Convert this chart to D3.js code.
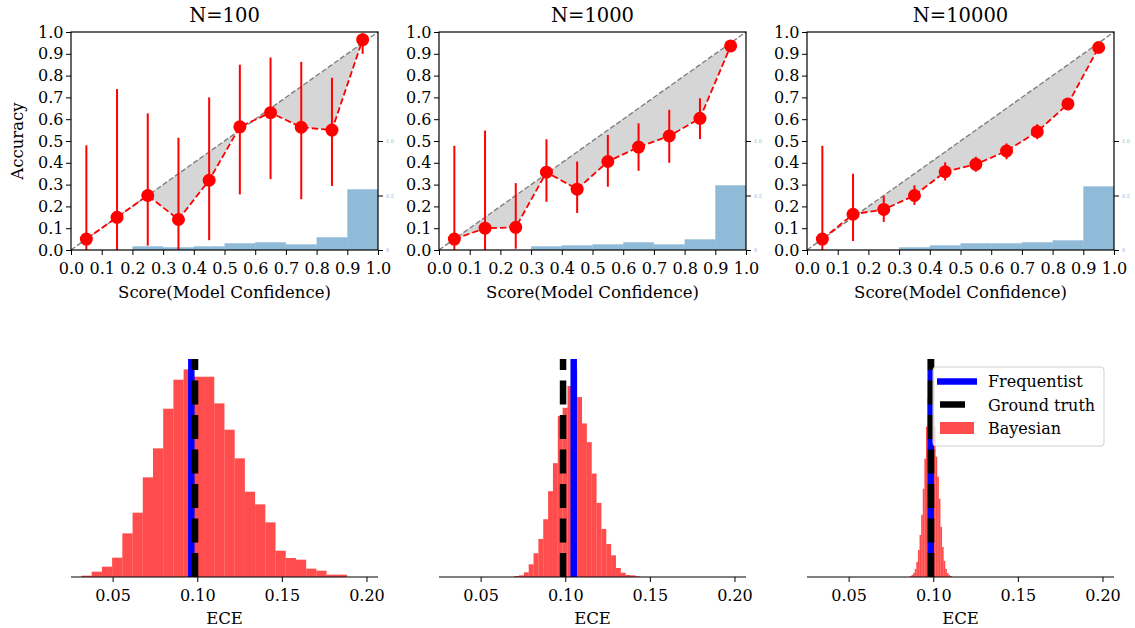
<!DOCTYPE html>
<html>
<head>
<meta charset="utf-8">
<script src="https://cdn.jsdelivr.net/npm/d3@7"></script>
<style>
  body { margin: 0; background: #fff; }
  text { font-family: "DejaVu Serif", serif; }
</style>
</head>
<body>
<div class="chart"></div>
<script>
// Calibration plots (top) and ECE posteriors (bottom)
var svgWidth = 1135;
var svgHeight = 628;

// ---- data ----
var titles = ["N=100", "N=1000", "N=10000"];
var binCenters = [0.05, 0.15, 0.25, 0.35, 0.45, 0.55, 0.65, 0.75, 0.85, 0.95];
var binEdges = [0.0, 0.1, 0.2, 0.3, 0.4, 0.5, 0.6, 0.7, 0.8, 0.9];
var accTicks = [0.0, 0.1, 0.2, 0.3, 0.4, 0.5, 0.6, 0.7, 0.8, 0.9, 1.0];
var histTicks = [0, 0.5, 1.0];
var histTickLabels = ["0", "0.5", "1.0"];

var acc100 = [0.05, 0.15, 0.25, 0.14, 0.32, 0.565, 0.63, 0.563, 0.55, 0.965];
var lo100 = [0.0, 0.0, 0.02, 0.0, 0.045, 0.255, 0.325, 0.233, 0.294, 0.90];
var hi100 = [0.48, 0.738, 0.627, 0.515, 0.70, 0.85, 0.883, 0.863, 0.79, 0.995];
var hist100 = [0, 0, 0.034, 0.025, 0.034, 0.062, 0.071, 0.052, 0.117, 0.557];

var acc1000 = [0.05, 0.10, 0.104, 0.357, 0.279, 0.406, 0.472, 0.523, 0.604, 0.936];
var lo1000 = [0.0, 0.0, 0.006, 0.221, 0.17, 0.29, 0.363, 0.40, 0.509, 0.915];
var hi1000 = [0.478, 0.548, 0.307, 0.508, 0.406, 0.528, 0.581, 0.643, 0.696, 0.955];
var hist1000 = [0, 0, 0, 0.034, 0.043, 0.052, 0.071, 0.052, 0.098, 0.594];

var acc10000 = [0.05, 0.164, 0.186, 0.25, 0.359, 0.393, 0.454, 0.543, 0.67, 0.929];
var lo10000 = [0.0, 0.041, 0.129, 0.207, 0.319, 0.359, 0.416, 0.508, 0.65, 0.915];
var hi10000 = [0.478, 0.35, 0.247, 0.297, 0.402, 0.428, 0.489, 0.577, 0.69, 0.94];
var hist10000 = [0, 0, 0, 0.025, 0.043, 0.062, 0.062, 0.071, 0.089, 0.584];

var eceTicks = [0.05, 0.10, 0.15, 0.20];
var eceLo = [0.0316, 0.0698, 0.0862];
var eceHi = [0.1885, 0.1443, 0.1109];
var eceCounts100 = [4, 16, 31, 58, 131, 193, 299, 386, 505, 592, 623, 601, 601, 521, 442, 356, 256, 218, 164, 79, 57, 52, 25, 19, 7, 7];
var eceCounts1000 = [3, 5, 14, 38, 71, 114, 173, 257, 341, 482, 507, 572, 622, 539, 460, 404, 310, 222, 144, 99, 65, 27, 13, 6, 5, 2];
var eceCounts10000 = [1, 2, 4, 8, 15, 27, 42, 62, 88, 118, 150, 178, 200, 207, 185, 150, 120, 100, 78, 50, 30, 16, 8, 4, 2, 1];
var freqEce = [0.0965, 0.105, 0.0985];
var trueEce = [0.0987, 0.0987, 0.0987];
var legendLabels = ["Frequentist", "Ground truth", "Bayesian"];

// ---- layout ----
var panelX = [71, 439, 807];
var panelW = 307;
var topY = 32, topH = 218;
var botY = 359, botH = 218;
var fontFam = "DejaVu Serif";

var svg = d3.select(".chart")
  .append("svg")
  .attr("width", svgWidth)
  .attr("height", svgHeight);

var calib = [
  { acc: acc100, lo: lo100, hi: hi100, hist: hist100 },
  { acc: acc1000, lo: lo1000, hi: hi1000, hist: hist1000 },
  { acc: acc10000, lo: lo10000, hi: hi10000, hist: hist10000 }
];
var eceCounts = [eceCounts100, eceCounts1000, eceCounts10000];

function styleAxis(g, size) {
  g.attr("font-family", fontFam).attr("font-size", size);
  g.selectAll("line").attr("stroke", "#000").attr("stroke-width", 1);
  g.selectAll(".domain").remove();
}

calib.forEach(function (c, i) {
  var g = svg.append("g")
    .attr("transform", `translate(${panelX[i]}, ${topY})`);

  var x = d3.scaleLinear().domain([0, 1]).range([0, panelW]);
  var y = d3.scaleLinear().domain([0, 1]).range([topH, 0]);
  var y2 = d3.scaleLinear().domain([0, 2]).range([topH, 0]);

  var pts = binCenters.map(function (b, k) {
    return { c: b, a: c.acc[k], lo: c.lo[k], hi: c.hi[k] };
  });

  // gap between ideal and observed accuracy
  g.append("path")
    .datum(pts)
    .attr("d", d3.area().x(d => x(d.c)).y0(d => y(d.c)).y1(d => y(d.a)))
    .attr("fill", "#d6d6d6");

  // ideal diagonal
  g.append("line")
    .attr("x1", x(0)).attr("y1", y(0))
    .attr("x2", x(1)).attr("y2", y(1))
    .attr("stroke", "#808080")
    .attr("stroke-width", 1.4)
    .attr("stroke-dasharray", "5.2,2.3");

  // confidence histogram (right axis)
  g.selectAll(".hbar")
    .data(binEdges)
    .enter()
    .append("rect")
    .attr("x", d => x(d))
    .attr("width", x(0.1) - x(0))
    .attr("y", (d, k) => y2(c.hist[k]))
    .attr("height", (d, k) => topH - y2(c.hist[k]))
    .attr("fill", "#1f77b4")
    .attr("fill-opacity", 0.5);

  // error bars
  g.selectAll(".err")
    .data(pts)
    .enter()
    .append("line")
    .attr("x1", d => x(d.c)).attr("x2", d => x(d.c))
    .attr("y1", d => y(d.lo)).attr("y2", d => y(d.hi))
    .attr("stroke", "red")
    .attr("stroke-width", 2);

  // accuracy line
  g.append("path")
    .datum(pts)
    .attr("d", d3.line().x(d => x(d.c)).y(d => y(d.a)))
    .attr("fill", "none")
    .attr("stroke", "red")
    .attr("stroke-width", 1.8)
    .attr("stroke-dasharray", "6.5,3");

  g.selectAll(".pt")
    .data(pts)
    .enter()
    .append("circle")
    .attr("cx", d => x(d.c))
    .attr("cy", d => y(d.a))
    .attr("r", 6.5)
    .attr("fill", "red");

  // frame
  g.append("rect")
    .attr("width", panelW).attr("height", topH)
    .attr("fill", "none")
    .attr("stroke", "#000")
    .attr("stroke-width", 1.2);

  var xa = g.append("g")
    .attr("transform", `translate(0, ${topH})`)
    .call(d3.axisBottom(x).tickValues(accTicks).tickFormat(d3.format(".1f")).tickSize(5).tickPadding(8));
  styleAxis(xa, 16);

  var ya = g.append("g")
    .call(d3.axisLeft(y).tickValues(accTicks).tickFormat(d3.format(".1f")).tickSize(5).tickPadding(2.5));
  styleAxis(ya, 16);

  var ra = g.append("g")
    .attr("transform", `translate(${panelW}, 0)`)
    .call(d3.axisRight(y2).tickValues(histTicks).tickFormat((d, k) => histTickLabels[k]).tickSize(5).tickPadding(3));
  styleAxis(ra, 5);
  ra.selectAll("text").attr("fill", "#7fb2dc");

  g.append("text")
    .attr("x", panelW / 2)
    .attr("y", -10)
    .attr("text-anchor", "middle")
    .attr("font-size", 19.5)
    .text(titles[i]);

  g.append("text")
    .attr("x", panelW / 2)
    .attr("y", topH + 48)
    .attr("text-anchor", "middle")
    .attr("font-size", 16.5)
    .text("Score(Model Confidence)");

  if (i === 0) {
    g.append("text")
      .attr("transform", `translate(${-48}, ${topH / 2}) rotate(-90)`)
      .attr("text-anchor", "middle")
      .attr("font-size", 16.5)
      .text("Accuracy");
  }
});

// ---- ECE histograms ----
eceCounts.forEach(function (counts, i) {
  var g = svg.append("g")
    .attr("transform", `translate(${panelX[i]}, ${botY})`);

  var x = d3.scaleLinear().domain([0.0254, 0.2068]).range([0, panelW]);
  var y = d3.scaleLinear().domain([0, d3.max(counts) * 1.05]).range([botH, 0]);
  var w = (eceHi[i] - eceLo[i]) / counts.length;

  g.selectAll(".ebar")
    .data(counts)
    .enter()
    .append("rect")
    .attr("x", (d, k) => x(eceLo[i] + k * w))
    .attr("width", x(w) - x(0))
    .attr("y", d => y(d))
    .attr("height", d => botH - y(d))
    .attr("fill", "red")
    .attr("fill-opacity", 0.7);

  // frequentist estimate
  g.append("line")
    .attr("x1", x(freqEce[i])).attr("x2", x(freqEce[i]))
    .attr("y1", botH).attr("y2", 0)
    .attr("stroke", "blue")
    .attr("stroke-width", 6.5);

  // ground truth
  g.append("line")
    .attr("x1", x(trueEce[i])).attr("x2", x(trueEce[i]))
    .attr("y1", botH).attr("y2", 0)
    .attr("stroke", "black")
    .attr("stroke-width", 6.5)
    .attr("stroke-dasharray", "24,10.5");

  var xa = g.append("g")
    .attr("transform", `translate(0, ${botH})`)
    .call(d3.axisBottom(x).tickValues(eceTicks).tickFormat(d3.format(".2f")).tickSize(5).tickPadding(8));
  styleAxis(xa, 16);
  g.append("line")
    .attr("x1", 0).attr("x2", panelW)
    .attr("y1", botH).attr("y2", botH)
    .attr("stroke", "#000")
    .attr("stroke-width", 1.2);

  g.append("text")
    .attr("x", panelW / 2)
    .attr("y", botH + 47)
    .attr("text-anchor", "middle")
    .attr("font-size", 16.5)
    .text("ECE");

  if (i === 2) {
    var lg = g.append("g").attr("transform", `translate(${126}, ${8})`);
    lg.append("rect")
      .attr("width", 171).attr("height", 79)
      .attr("rx", 3)
      .attr("fill", "#fff").attr("fill-opacity", 0.8)
      .attr("stroke", "#d0d0d0");
    lg.append("line")
      .attr("x1", 4).attr("x2", 44).attr("y1", 14.5).attr("y2", 14.5)
      .attr("stroke", "blue").attr("stroke-width", 6.5);
    // a single dash of the ground-truth line, as in the legend handle
    lg.append("line")
      .attr("x1", 7).attr("x2", 32).attr("y1", 37.5).attr("y2", 37.5)
      .attr("stroke", "black").attr("stroke-width", 6.5);
    lg.append("rect")
      .attr("x", 7).attr("y", 55).attr("width", 34).attr("height", 12)
      .attr("fill", "red").attr("fill-opacity", 0.7);
    lg.selectAll(".lt")
      .data(legendLabels)
      .enter()
      .append("text")
      .attr("x", 55)
      .attr("y", (d, k) => 20 + k * 23.5)
      .attr("font-size", 16)
      .text(d => d);
  }
});
</script>
</body>
</html>
